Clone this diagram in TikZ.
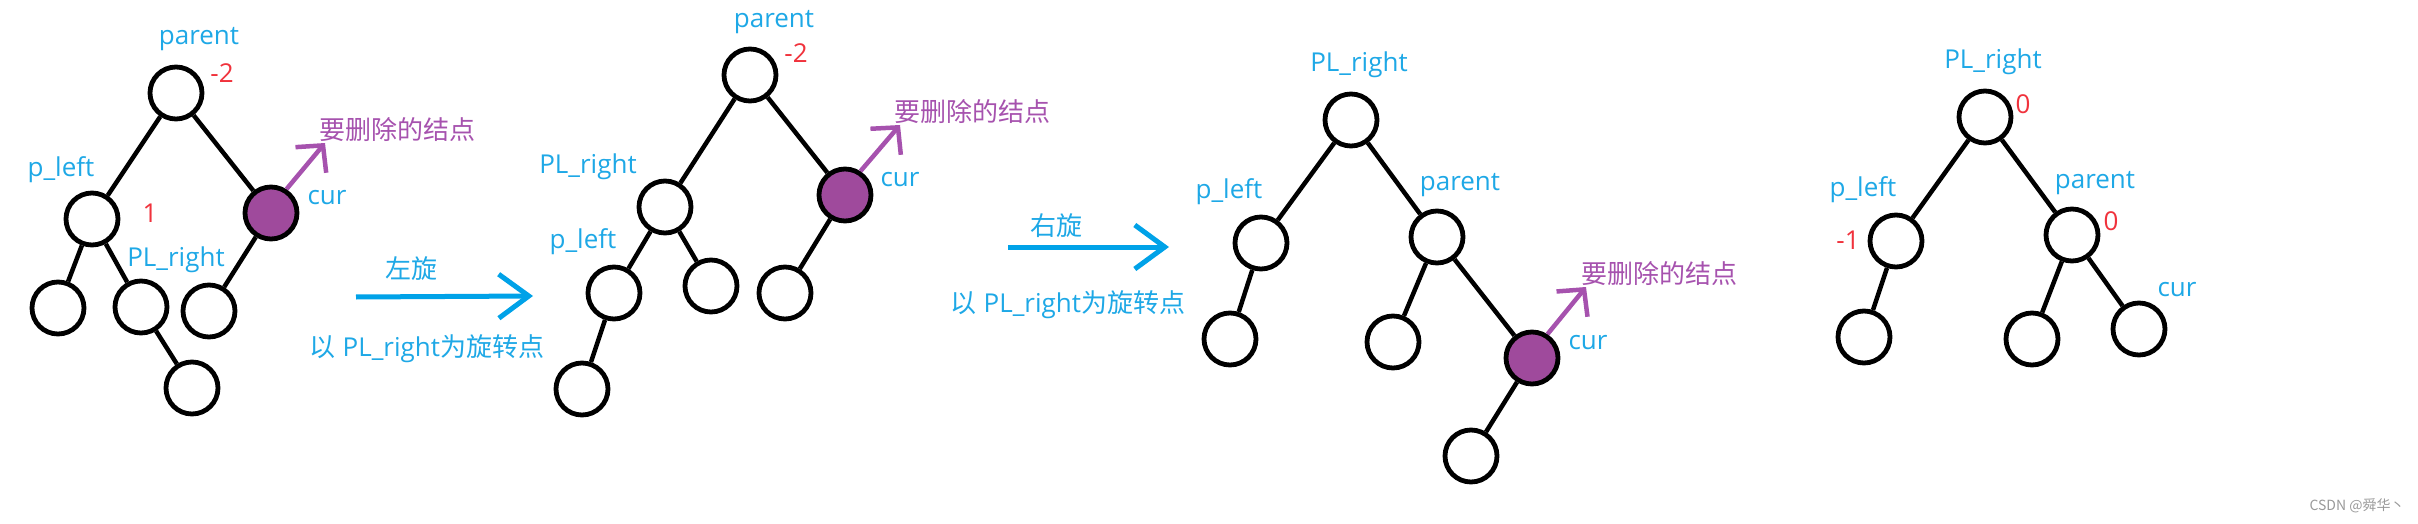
\documentclass[tikz,border=0pt]{standalone}
\usepackage{fontspec}
\setmainfont{Open Sans}
\newfontfamily\cjk{Noto Sans CJK SC}
\usetikzlibrary{arrows.meta}
\definecolor{lblblue}{HTML}{1EA8E6}
\definecolor{balred}{HTML}{F0323C}
\definecolor{delfill}{HTML}{9F4A9C}
\definecolor{delline}{HTML}{A652AE}
\definecolor{rotblue}{HTML}{00A2E8}
\tikzset{
  tnode/.style    = {circle, draw=black, line width=4.8pt, minimum size=52pt,
                     inner sep=0pt, fill=white},
  tdel/.style     = {tnode, fill=delfill},
  tline/.style    = {line width=4.5pt},
  lbl/.style      = {text=lblblue, inner sep=0pt, font=\fontsize{26}{30}\selectfont},
  bal/.style      = {lbl, text=balred},
  dellbl/.style   = {lbl, text=delline, font=\fontsize{26}{30}\selectfont\cjk},
  delarrow/.style = {draw=delline, line width=4.5pt,
                     -{Straight Barb[length=19pt, width=40pt]}},
  rotarrow/.style = {draw=rotblue, line width=5pt,
                     -{Straight Barb[length=30pt, width=44pt]}},
}

\begin{document}
\begin{tikzpicture}[x=1pt, y=-1pt]
  \useasboundingbox (0,0) rectangle (2418,524);
  \node[tnode] (t1p)   at (176,93)  {};
  \node[tnode] (t1l)   at (92,219)  {};
  \node[tdel]  (t1c)   at (271,213) {};
  \node[tnode] (t1ll)  at (58,308)  {};
  \node[tnode] (t1lr)  at (141,307) {};
  \node[tnode] (t1lrr) at (192,388) {};
  \node[tnode] (t1cl)  at (209,311) {};
  \draw[tline] (t1p) -- (t1l) (t1p) -- (t1c) (t1l) -- (t1ll) (t1l) -- (t1lr)
               (t1lr) -- (t1lrr) (t1c) -- (t1cl);
  \node[lbl] (t1pn)  at (199,39)  {parent};
  \node[bal] (t1pb)  at (222,73)  {-2};
  \node[lbl] (t1ln)  at (61,170)  {p\_left};
  \node[bal] (t1lb)  at (150,213) {1};
  \node[lbl] (t1lrn) at (176,260) {PL\_right};
  \node[lbl] (t1cn)  at (327,198) {cur};
  \node[dellbl] (t1del) at (397,130) {要删除的结点};
  \coordinate (t1tip) at (325,143);
  \draw[delarrow] (t1c.57) -- (t1tip);

  \coordinate (rot1s) at (356,297);
  \coordinate (rot1e) at (533,296);
  \draw[rotarrow] (rot1s) -- (rot1e);
  \node[lbl, font=\fontsize{26}{30}\selectfont\cjk] (rot1n) at (411,269) {左旋};
  \node[lbl] (rot1t) at (427,349) {{\cjk 以} PL\_right{\cjk 为旋转点}};

  \node[tnode] (t2p)  at (750,75)  {};
  \node[tnode] (t2r)  at (665,207) {};
  \node[tnode] (t2l)  at (614,293) {};
  \node[tnode] (t2rr) at (711,286) {};
  \node[tnode] (t2ll) at (582,389) {};
  \node[tdel]  (t2c)  at (845,195) {};
  \node[tnode] (t2cl) at (785,293) {};
  \draw[tline] (t2p) -- (t2r) (t2p) -- (t2c) (t2r) -- (t2l) (t2r) -- (t2rr)
               (t2l) -- (t2ll) (t2c) -- (t2cl);
  \node[lbl] (t2pn) at (774,22)  {parent};
  \node[bal] (t2pb) at (796,53)  {-2};
  \node[lbl] (t2rn) at (588,167) {PL\_right};
  \node[lbl] (t2ln) at (583,242) {p\_left};
  \node[lbl] (t2cn) at (900,180) {cur};
  \node[dellbl] (t2del) at (972,112) {要删除的结点};
  \coordinate (t2tip) at (900,125);
  \draw[delarrow] (t2c.57) -- (t2tip);

  \coordinate (rot2s) at (1008,247);
  \coordinate (rot2e) at (1169,247);
  \draw[rotarrow] (rot2s) -- (rot2e);
  \node[lbl, font=\fontsize{26}{30}\selectfont\cjk] (rot2n) at (1056,226) {右旋};
  \node[lbl] (rot2t) at (1068,305) {{\cjk 以} PL\_right{\cjk 为旋转点}};

  \node[tnode] (t3r)  at (1351,120) {};
  \node[tnode] (t3l)  at (1261,243) {};
  \node[tnode] (t3p)  at (1437,237) {};
  \node[tnode] (t3ll) at (1230,339) {};
  \node[tnode] (t3pl) at (1393,342) {};
  \node[tdel]  (t3c)  at (1532,358) {};
  \node[tnode] (t3cl) at (1471,456) {};
  \draw[tline] (t3r) -- (t3l) (t3r) -- (t3p) (t3l) -- (t3ll) (t3p) -- (t3pl)
               (t3p) -- (t3c) (t3c) -- (t3cl);
  \node[lbl] (t3rn) at (1359,65)  {PL\_right};
  \node[lbl] (t3ln) at (1229,192) {p\_left};
  \node[lbl] (t3pn) at (1460,185) {parent};
  \node[lbl] (t3cn) at (1588,343) {cur};
  \node[dellbl] (t3del) at (1659,274) {要删除的结点};
  \coordinate (t3tip) at (1586,287);
  \draw[delarrow] (t3c.57) -- (t3tip);

  \node[tnode] (t4r)  at (1985,117) {};
  \node[tnode] (t4l)  at (1896,241) {};
  \node[tnode] (t4p)  at (2072,235) {};
  \node[tnode] (t4ll) at (1864,337) {};
  \node[tnode] (t4pl) at (2032,339) {};
  \node[tnode] (t4c)  at (2139,329) {};
  \draw[tline] (t4r) -- (t4l) (t4r) -- (t4p) (t4l) -- (t4ll) (t4p) -- (t4pl)
               (t4p) -- (t4c);
  \node[lbl] (t4rn) at (1993,62)  {PL\_right};
  \node[bal] (t4rb) at (2023,104) {0};
  \node[lbl] (t4ln) at (1863,190) {p\_left};
  \node[bal] (t4lb) at (1848,240) {-1};
  \node[lbl] (t4pn) at (2095,183) {parent};
  \node[bal] (t4pb) at (2111,221) {0};
  \node[lbl] (t4cn) at (2177,290) {cur};

  \node[inner sep=0pt, text=gray!80, font=\fontsize{14}{16}\selectfont\cjk]
    (mark) at (2357,506) {CSDN @舜华丶};
\end{tikzpicture}
\end{document}
